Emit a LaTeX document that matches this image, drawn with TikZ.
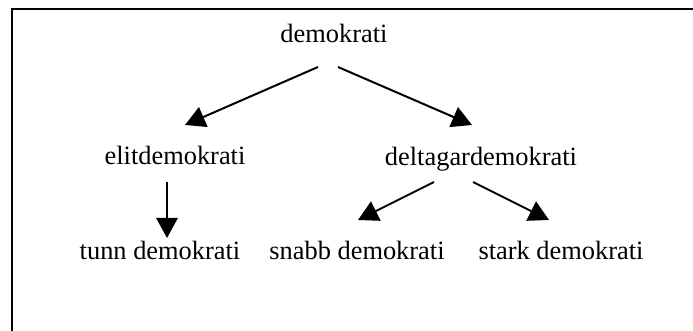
\documentclass[tikz,border=0pt]{standalone}
\usepackage{fontspec}
\setmainfont{Liberation Serif}
\usetikzlibrary{arrows.meta}
\begin{document}
\begin{tikzpicture}[x=0.75pt,y=-0.75pt,
  lbl/.style={anchor=base,inner sep=0pt,font=\fontsize{19.8pt}{24pt}\selectfont},
  arr/.style={line width=1.5pt,-{Triangle[length=15pt,width=16pt]}},
  frame/.style={line width=1.6pt}]
\useasboundingbox (0,0) rectangle (693,331);
\draw[frame] (12,340) -- (12,9) -- (700,9);
\node[lbl] (top) at (334,43) {demokrati};
\node[lbl] (elit) at (175,165) {elitdemokrati};
\node[lbl] (delt) at (481,166) {deltagardemokrati};
\node[lbl] (tunn) at (160,260) {tunn demokrati};
\node[lbl] (snabb) at (357,260) {snabb demokrati};
\node[lbl] (stark) at (561,260) {stark demokrati};
\coordinate (t1) at (318,67);
\coordinate (t2) at (338,67);
\coordinate (e1) at (185,125);
\coordinate (d1) at (472,125);
\coordinate (el1) at (167,182);
\coordinate (tu1) at (167,238);
\coordinate (dl1) at (434,182);
\coordinate (dr1) at (473,182);
\coordinate (sn1) at (358,220);
\coordinate (st1) at (549,220);
\draw[arr] (t1) -- (e1);
\draw[arr] (t2) -- (d1);
\draw[arr] (el1) -- (tu1);
\draw[arr] (dl1) -- (sn1);
\draw[arr] (dr1) -- (st1);
\end{tikzpicture}
\end{document}
